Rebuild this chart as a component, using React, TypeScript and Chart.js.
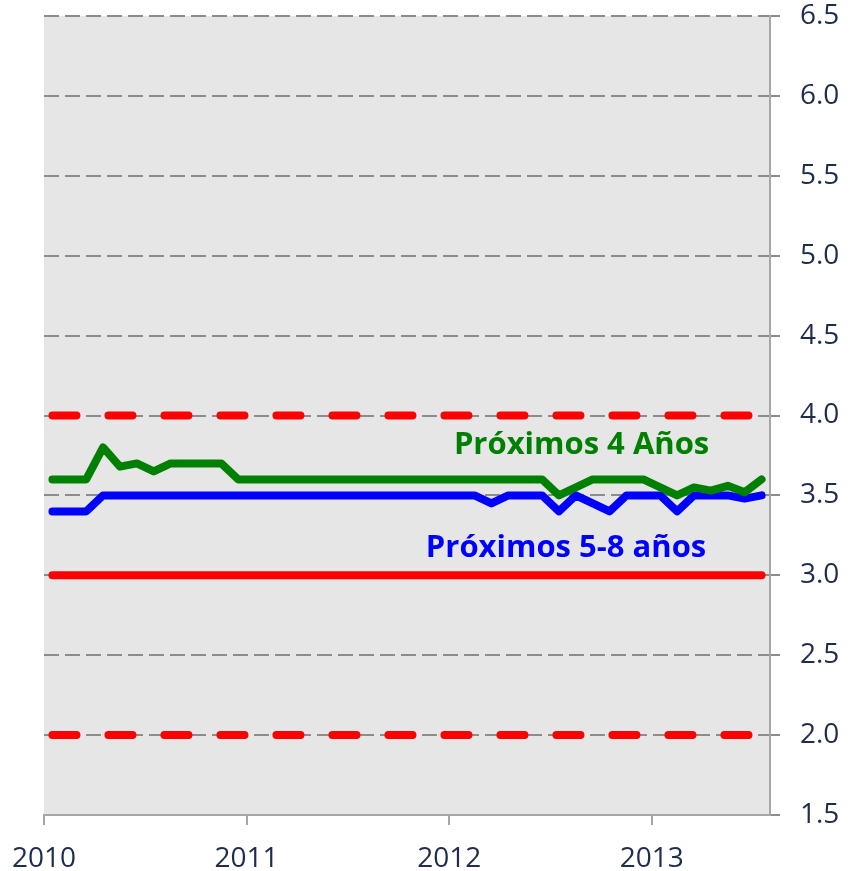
import React, { useEffect, useRef } from "react";
import { Chart, registerables } from "chart.js";

Chart.register(...registerables);

const months = [
  "2010-01","2010-02","2010-03","2010-04","2010-05","2010-06","2010-07","2010-08","2010-09","2010-10","2010-11","2010-12",
  "2011-01","2011-02","2011-03","2011-04","2011-05","2011-06","2011-07","2011-08","2011-09","2011-10","2011-11","2011-12",
  "2012-01","2012-02","2012-03","2012-04","2012-05","2012-06","2012-07","2012-08","2012-09","2012-10","2012-11","2012-12",
  "2013-01","2013-02","2013-03","2013-04","2013-05","2013-06","2013-07",
];

const next4Years = [
  3.6, 3.6, 3.6, 3.8, 3.68, 3.7, 3.65, 3.7, 3.7, 3.7, 3.7, 3.6,
  3.6, 3.6, 3.6, 3.6, 3.6, 3.6, 3.6, 3.6, 3.6, 3.6, 3.6, 3.6,
  3.6, 3.6, 3.6, 3.6, 3.6, 3.6, 3.5, 3.55, 3.6, 3.6, 3.6, 3.6,
  3.55, 3.5, 3.55, 3.53, 3.56, 3.52, 3.6,
];

const next5to8Years = [
  3.4, 3.4, 3.4, 3.5, 3.5, 3.5, 3.5, 3.5, 3.5, 3.5, 3.5, 3.5,
  3.5, 3.5, 3.5, 3.5, 3.5, 3.5, 3.5, 3.5, 3.5, 3.5, 3.5, 3.5,
  3.5, 3.5, 3.45, 3.5, 3.5, 3.5, 3.4, 3.5, 3.45, 3.4, 3.5, 3.5,
  3.5, 3.4, 3.5, 3.5, 3.5, 3.48, 3.5,
];

const TARGET = 3.0;
const UPPER = 4.0;
const LOWER = 2.0;

const yearTicks = [0, 12, 24, 36];
const yearLabels = ["2010", "2011", "2012", "2013"];

const label4 = { text: "Próximos 4 Años", x: 31.84, y: 3.815, color: "#008000" };
const label58 = { text: "Próximos 5-8 años", x: 30.92, y: 3.17, color: "#0000FF" };

const FONT = "'Open Sans', 'Liberation Sans', sans-serif";

export default function App() {
  const ref = useRef<HTMLCanvasElement | null>(null);

  useEffect(() => {
    const canvas = ref.current;
    if (!canvas) return;

    const pts = (vals: number[]) => vals.map((v, i) => ({ x: i + 0.5, y: v }));
    const constPts = (v: number) => months.map((_, i) => ({ x: i + 0.5, y: v }));

    const bgPlugin = {
      id: "bg",
      beforeDraw(chart: any) {
        const { ctx, chartArea } = chart;
        ctx.save();
        ctx.fillStyle = "#E6E6E6";
        ctx.fillRect(chartArea.left, chartArea.top, chartArea.right - chartArea.left, chartArea.bottom - chartArea.top);
        ctx.restore();
      },
    };

    const labelPlugin = {
      id: "seriesLabels",
      afterDatasetsDraw(chart: any) {
        const { ctx, scales } = chart;
        ctx.save();
        ctx.font = `bold 31px ${FONT}`;
        ctx.textAlign = "center";
        ctx.textBaseline = "middle";
        for (const l of [label4, label58]) {
          ctx.fillStyle = l.color;
          ctx.fillText(l.text, scales.x.getPixelForValue(l.x), scales.y.getPixelForValue(l.y));
        }
        ctx.restore();
      },
    };

    const common = {
      pointRadius: 0,
      borderWidth: 8,
      borderCapStyle: "round",
      borderJoinStyle: "round",
      tension: 0,
      fill: false,
    };

    const chart = new Chart(canvas, {
      type: "line",
      data: {
        datasets: [
          { ...common, label: "Meta", data: constPts(TARGET), borderColor: "#FF0000" },
          { ...common, label: "Límite superior", data: constPts(UPPER), borderColor: "#FF0000", borderDash: [24, 32] },
          { ...common, label: "Límite inferior", data: constPts(LOWER), borderColor: "#FF0000", borderDash: [24, 32] },
          { ...common, label: "Próximos 4 Años", data: pts(next4Years), borderColor: "#008000" },
          { ...common, label: "Próximos 5-8 años", data: pts(next5to8Years), borderColor: "#0000FF" },
        ] as any,
      },
      options: {
        animation: false,
        responsive: false,
        devicePixelRatio: 1,
        layout: { padding: { left: 44, top: 16, right: 0, bottom: 0 } },
        plugins: { legend: { display: false }, tooltip: { enabled: false } },
        scales: {
          x: {
            type: "linear",
            min: 0,
            max: 43,
            afterBuildTicks: (s: any) => {
              s.ticks = yearTicks.map((v) => ({ value: v }));
            },
            afterFit: (s: any) => {
              s.height = 56;
              s.paddingLeft = 0;
              s.paddingRight = 0;
            },
            ticks: {
              autoSkip: false,
              maxRotation: 0,
              padding: 17,
              color: "#1F2D4D",
              font: { family: FONT, size: 28 },
              callback: (v: any) => yearLabels[yearTicks.indexOf(Number(v))] ?? "",
            },
            grid: {
              drawOnChartArea: false,
              drawTicks: true,
              tickLength: 10,
              color: "#A6A6A6",
              lineWidth: 2,
            },
            border: { display: true, color: "#A6A6A6", width: 2 },
          },
          y: {
            position: "right",
            min: 1.5,
            max: 6.5,
            afterFit: (s: any) => {
              s.width = 86;
              s.paddingTop = 0;
              s.paddingBottom = 0;
            },
            ticks: {
              stepSize: 0.5,
              padding: 20,
              color: "#1F2D4D",
              font: { family: FONT, size: 28 },
              callback: (v: any) => Number(v).toFixed(1),
            },
            grid: {
              color: (c: any) => (c.tick && c.tick.value === 1.5 ? "rgba(0,0,0,0)" : "#8C8C8C"),
              tickColor: "#8C8C8C",
              lineWidth: 2,
              tickLength: 10,
              tickBorderDash: [],
            } as any,
            border: { display: true, color: "#A6A6A6", width: 2, dash: [15, 6] },
          },
        },
      } as any,
      plugins: [bgPlugin, labelPlugin],
    });

    return () => chart.destroy();
  }, []);

  return (
    <div style={{ position: "absolute", left: 0, top: 0, width: 856, height: 871 }}>
      <canvas ref={ref} width={856} height={871} style={{ display: "block" }} />
    </div>
  );
}
